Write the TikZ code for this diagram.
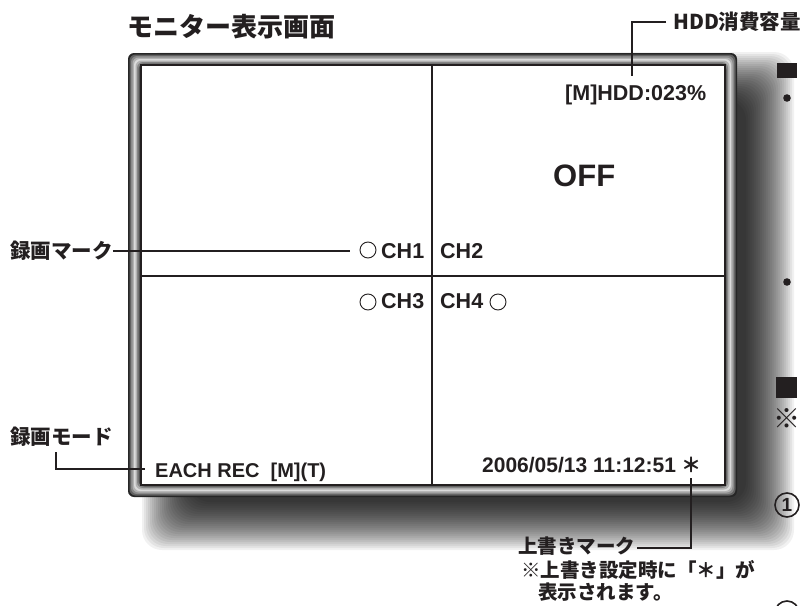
\documentclass[tikz,border=0pt]{standalone}
\usepackage{fontspec}
\setmainfont{Liberation Sans}
\newfontfamily\cjk{Noto Sans CJK JP}
\definecolor{ink}{HTML}{231F20}
\tikzset{
  lbl/.style={font=\cjk\bfseries\fontsize{20.5}{24}\selectfont, text=ink, inner sep=0pt, anchor=west},
  scr/.style={font=\bfseries\fontsize{21.5}{24}\selectfont, text=ink, inner sep=0pt, anchor=base west},
  leader/.style={draw=ink, line width=1.8pt},
  recdot/.style={circle, draw=ink, line width=0.9pt, minimum size=16pt, inner sep=0pt},
  numring/.style={circle, draw=ink, line width=1.6pt, minimum size=24pt, inner sep=0pt, text=ink, font=\bfseries\fontsize{19}{19}\selectfont},
}
\begin{document}
\begin{tikzpicture}[x=1pt,y=-1pt]
\useasboundingbox (0,0) rectangle (803,605);
\clip (0,0) rectangle (803,605);
\fill[white] (0,0) rectangle (803,605);
% shadow
\foreach \k in {0,...,24}{
  \fill[black, opacity=0.055, rounded corners=20pt] (142+2*\k,52+2*\k) rectangle (794-2*\k,550-2*\k);
}
% frame
\foreach \d/\g in {0/85,1.5/62,3/46,4.5/30,6/14,7.5/30,9/48,10.5/68}{
  \fill[black!\g, rounded corners=6pt] (128+\d,53+\d) rectangle (737-\d,497-\d);
}
\filldraw[fill=white, draw=ink, line width=1.5pt] (141,65) rectangle (725,485);
% dividers
\draw[ink, line width=1.8pt] (432,65) -- (432,485);
\draw[ink, line width=1.8pt] (141,276) -- (725,276);
% title
\node[lbl, font=\cjk\bfseries\fontsize{26}{30}\selectfont] (title) at (127,27) {モニター表示画面};
% screen texts
\node[scr] (hddval) at (565,100) {[M]HDD:023\%};
\node[scr, font=\bfseries\fontsize{31}{34}\selectfont] (off) at (553,186) {OFF};
\node[recdot] (ch1o) at (368,250) {};
\node[scr] (ch1) at (381,258) {CH1};
\node[scr] (ch2) at (440,258) {CH2};
\node[recdot] (ch3o) at (368,302) {};
\node[scr] (ch3) at (381,308) {CH3};
\node[scr] (ch4) at (440,308) {CH4};
\node[recdot] (ch4o) at (498,302) {};
\node[scr, font=\bfseries\fontsize{20}{24}\selectfont] (eachrec) at (155,477) {EACH REC\hspace{11pt}[M](T)};
\node[scr, font=\bfseries\fontsize{21}{24}\selectfont] (date) at (482,472) {2006/05/13 11:12:51};
\node[inner sep=0pt, text=ink, font=\cjk\bfseries\fontsize{20}{24}\selectfont] (star) at (691,465) {＊};
% labels
\node[lbl] (hddlbl) at (673,22) {HDD消費容量};
\node[lbl] (recmark) at (10,251) {録画マーク};
\node[lbl] (recmode) at (10,437) {録画モード};
\node[lbl, font=\cjk\bfseries\fontsize{19.5}{24}\selectfont] (owmark) at (518,546) {上書きマーク};
\node[lbl, font=\cjk\bfseries\fontsize{19.5}{24}\selectfont] (ownote1) at (521,570) {※上書き設定時に「＊」が};
\node[lbl, font=\cjk\bfseries\fontsize{19.5}{24}\selectfont] (ownote2) at (538,592) {表示されます。};
% leaders
\coordinate (hddc) at (632,22);
\draw[leader] ([xshift=-7pt]hddlbl.west) -- (hddc) -- (hddc |- 0,76);
\draw[leader] (recmark.east) -- ([xshift=-10pt]ch1o.west |- recmark.east);
\coordinate (modec) at (56,469);
\draw[leader] (modec |- 0,452) -- (modec) -- ([xshift=-10pt]eachrec.west |- modec);
\coordinate (owc) at (691,548);
\draw[leader] ([xshift=2pt]owmark.east |- owc) -- (owc) -- ([yshift=-5pt]star.south);
% right edge fragments
\fill[ink] (777,63) rectangle (797,78);
\fill[ink] (787,98) circle (3.8);
\fill[ink] (787,282) circle (3.8);
\fill[ink] (776,377) rectangle (797,398);
\node[inner sep=0pt, text=ink, font=\cjk\bfseries\fontsize{27}{27}\selectfont] (refm) at (787,419) {※};
\node[numring] (num1) at (787,505) {1};
\node[numring] (num2) at (787,613) {};
\end{tikzpicture}
\end{document}
